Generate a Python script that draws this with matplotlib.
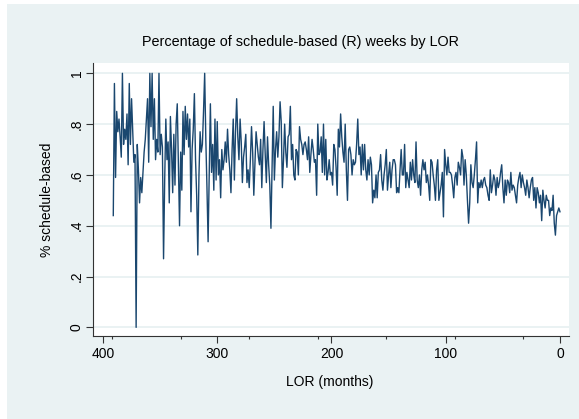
import numpy as np
import matplotlib
matplotlib.use("Agg")
import matplotlib.pyplot as plt
from matplotlib.patches import Rectangle

plt.rcParams['font.family'] = ['Liberation Sans', 'DejaVu Sans']

# share of schedule-based weeks (LOR 391 -> 0)
seg_391_333 = [0.44, 0.96, 0.59, 0.85, 0.77, 0.82, 0.75, 0.67, 1.0, 0.72, 0.78, 0.74, 0.84, 0.64, 0.96,
               0.72, 0.90, 0.77, 0.65, 0.68, 0.0, 0.72, 0.62, 0.49, 0.59, 0.53, 0.61, 0.69, 0.74, 0.82,
               0.90, 0.65, 1.0, 0.79, 1.0, 0.74, 0.90, 0.66, 0.74, 0.69, 1.0, 0.68, 0.76, 0.71, 0.27,
               0.58, 0.82, 0.66, 0.73, 0.49, 0.83, 0.70, 0.53, 0.76, 0.56, 0.80, 0.88, 0.63, 0.40]
seg_332_267 = [0.69, 0.54, 0.85, 0.68, 0.87, 0.74, 0.84, 0.71, 0.82, 0.455, 0.70, 0.78, 0.92, 0.66, 0.52,
               0.285, 0.60, 0.77, 0.69, 0.72, 0.85, 1.0, 0.74, 0.55, 0.337, 0.62, 0.88, 0.61, 0.72, 0.54,
               0.82, 0.58, 0.81, 0.60, 0.66, 0.51, 0.70, 0.62, 0.66, 0.73, 0.65, 0.78, 0.68, 0.62, 0.53,
               0.70, 0.82, 0.58, 0.77, 0.90, 0.75, 0.66, 0.82, 0.73, 0.57, 0.67, 0.71, 0.76, 0.57, 0.62,
               0.55, 0.66, 0.79, 0.69, 0.52, 0.64]
seg_266_202 = [0.77, 0.72, 0.67, 0.64, 0.74, 0.55, 0.70, 0.81, 0.68, 0.57, 0.75, 0.64, 0.56, 0.39, 0.62,
               0.87, 0.58, 0.70, 0.77, 0.67, 0.75, 0.888, 0.81, 0.55, 0.66, 0.80, 0.69, 0.63, 0.75, 0.76,
               0.87, 0.66, 0.72, 0.60, 0.58, 0.70, 0.69, 0.60, 0.79, 0.74, 0.72, 0.68, 0.72, 0.73, 0.70,
               0.66, 0.75, 0.61, 0.68, 0.74, 0.70, 0.65, 0.66, 0.52, 0.80, 0.68, 0.69, 0.75, 0.61, 0.80,
               0.60, 0.74, 0.58, 0.61, 0.66]
seg_201_137 = [0.60, 0.61, 0.56, 0.72, 0.70, 0.63, 0.52, 0.78, 0.71, 0.84, 0.75, 0.69, 0.65, 0.80, 0.62,
               0.50, 0.70, 0.71, 0.68, 0.60, 0.66, 0.64, 0.65, 0.72, 0.82, 0.68, 0.71, 0.60, 0.72, 0.62,
               0.72, 0.62, 0.58, 0.66, 0.60, 0.67, 0.64, 0.49, 0.54, 0.51, 0.60, 0.51, 0.61, 0.62, 0.68,
               0.58, 0.54, 0.60, 0.64, 0.70, 0.54, 0.60, 0.65, 0.55, 0.62, 0.66, 0.66, 0.64, 0.53, 0.55,
               0.53, 0.62, 0.70, 0.60, 0.60]
seg_136_70 = [0.72, 0.55, 0.61, 0.58, 0.55, 0.65, 0.58, 0.66, 0.60, 0.57, 0.73, 0.58, 0.55, 0.60, 0.52,
              0.62, 0.66, 0.62, 0.65, 0.57, 0.60, 0.56, 0.50, 0.66, 0.65, 0.60, 0.56, 0.50, 0.62, 0.66,
              0.50, 0.53, 0.56, 0.61, 0.435, 0.70, 0.64, 0.60, 0.67, 0.61, 0.61, 0.60, 0.56, 0.51, 0.59,
              0.61, 0.56, 0.65, 0.63, 0.60, 0.70, 0.67, 0.56, 0.66, 0.60, 0.50, 0.41, 0.49, 0.64, 0.57,
              0.55, 0.60, 0.66, 0.73, 0.49, 0.57, 0.55]
seg_69_0 = [0.58, 0.55, 0.58, 0.59, 0.56, 0.55, 0.52, 0.50, 0.62, 0.53, 0.56, 0.60, 0.58, 0.52, 0.59,
            0.55, 0.57, 0.61, 0.64, 0.55, 0.49, 0.58, 0.52, 0.58, 0.57, 0.53, 0.61, 0.54, 0.56, 0.55,
            0.52, 0.49, 0.56, 0.59, 0.61, 0.55, 0.60, 0.57, 0.55, 0.52, 0.58, 0.55, 0.51, 0.55, 0.58,
            0.59, 0.50, 0.55, 0.47, 0.55, 0.53, 0.49, 0.52, 0.42, 0.54, 0.50, 0.47, 0.52, 0.50, 0.50,
            0.44, 0.47, 0.46, 0.52, 0.41, 0.363, 0.44, 0.455, 0.47, 0.455]

y_ticks = [0, 0.2, 0.4, 0.6, 0.8, 1.0]
y_ticklabels = ["0", ".2", ".4", ".6", ".8", "1"]
x_ticks = [400, 300, 200, 100, 0]
x_minor = [392, 332, 272, 212, 152, 92, 32]

share = np.array(seg_391_333 + seg_332_267 + seg_266_202 + seg_201_137 + seg_136_70 + seg_69_0)
lor = np.arange(len(share) - 1, -1, -1)

W, H = 579, 419
fig = plt.figure(figsize=(W / 100, H / 100), dpi=100, facecolor="white")
# bluish graph region (image has a thin white strip at left and top)
fig.patches.append(Rectangle((7 / W, 0), 1 - 7 / W, (H - 4) / H, transform=fig.transFigure,
                             facecolor="#EAF2F3", edgecolor="none", zorder=-5))

ax = fig.add_axes([93 / W, (H - 336) / H, (569 - 93) / W, (336 - 63) / H])
ax.set_zorder(2)
ax.set_facecolor("white")
ax.plot(lor, share, color="#1A476F", lw=1.0, zorder=3)

ax.set_xlim(408.75, -7.9)
ax.set_ylim(-0.034, 1.0406)

ax.set_yticks(y_ticks)
ax.set_yticklabels(y_ticklabels, rotation=90, va="center", fontsize=10)
ax.set_xticks(x_ticks)
ax.set_xticklabels([str(t) for t in x_ticks], fontsize=10)
ax.set_xticks(x_minor, minor=True)
ax.tick_params(axis="both", which="major", length=5, width=0.8, color="#333333", pad=3)
ax.tick_params(axis="y", which="major", pad=1.5)
ax.tick_params(axis="x", which="minor", length=2.5, width=0.8, color="#333333")

ax.grid(axis="y", color="#EAF2F3", lw=1.4, zorder=1)
ax.set_axisbelow(True)
for s in ["top", "right"]:
    ax.spines[s].set_visible(False)
for s in ["left", "bottom"]:
    ax.spines[s].set_color("#333333")
    ax.spines[s].set_linewidth(0.8)

fig.text(47 / W, 1 - 200 / H, "% schedule-based", rotation=90, ha="center", va="center", fontsize=10)
fig.text(330 / W, 1 - 382 / H, "LOR (months)", ha="center", va="center", fontsize=10)
fig.text(300 / W, 1 - 42 / H, "Percentage of schedule-based (R) weeks by LOR", ha="center",
         va="center", fontsize=10.4)

fig.savefig("out.png", dpi=100, facecolor=fig.get_facecolor())
